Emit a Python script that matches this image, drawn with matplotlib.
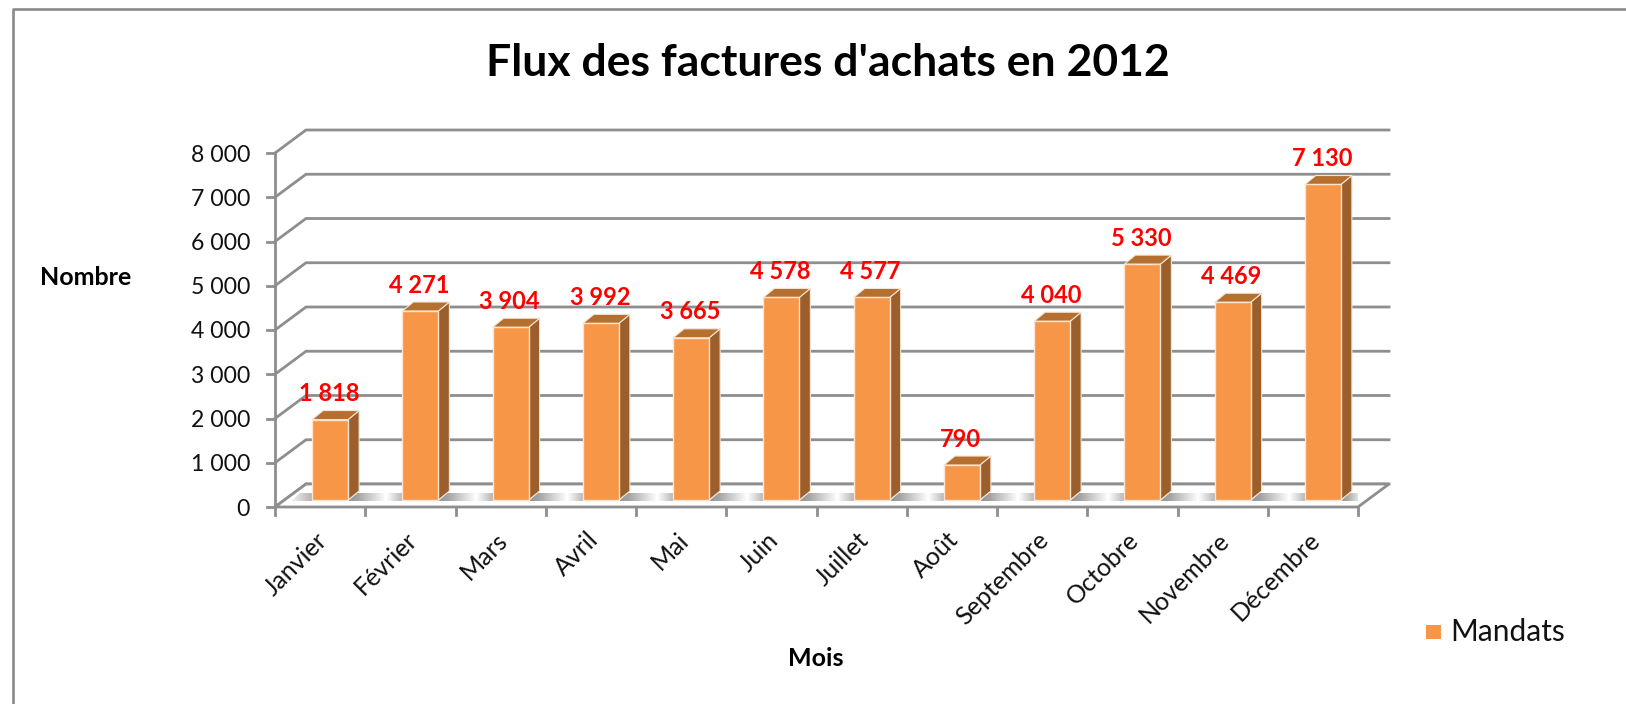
#!/usr/bin/env python3
"""
Flux des factures d'achats - fake 3D column chart
"""

import numpy as np
import matplotlib
matplotlib.use('Agg')
import matplotlib.pyplot as plt
from matplotlib.patches import Polygon, Rectangle

plt.rcParams['font.family'] = ['Lato', 'DejaVu Sans']

months = ['Janvier', 'Février', 'Mars', 'Avril', 'Mai', 'Juin', 'Juillet', 'Août',
          'Septembre', 'Octobre', 'Novembre', 'Décembre']
mandats = [1818, 4271, 3904, 3992, 3665, 4578, 4577, 790, 4040, 5330, 4469, 7130]
value_labels = ['1 818', '4 271', '3 904', '3 992', '3 665', '4 578', '4 577', '790',
                '4 040', '5 330', '4 469', '7 130']
y_ticks = [0, 1000, 2000, 3000, 4000, 5000, 6000, 7000, 8000]
y_tick_labels = ['0', '1 000', '2 000', '3 000', '4 000', '5 000', '6 000', '7 000', '8 000']

W, H = 1626, 704
FRONT = '#F79646'
SIDE = '#9C5F2B'
TOP = '#B5702F'
GRID = '#8E8E8E'

# plot box in pixels (front plane)
left, right, top, bottom = 275, 1358, 153, 507
px_x = (right - left) / 12
px_y = (bottom - top) / 8000


def dx(p):
    return p / px_x


def dy(p):
    return p / px_y


fig = plt.figure(figsize=(W / 100, H / 100), dpi=100)
fig.patch.set_facecolor('white')
ax = fig.add_axes([left / W, 1 - bottom / H, (right - left) / W, (bottom - top) / H])
ax.axis('off')

# outer frame of the chart area
fig.add_artist(plt.Line2D([13 / W, 13 / W, 1], [0, 1 - 9 / H, 1 - 9 / H], color='#8A8A8A', lw=1.9))

# walls: slanted + horizontal grid lines
deep_x, deep_y = dx(31), dy(23)
for v in y_ticks:
    ax.plot([0, deep_x, 12 + deep_x], [v, v + deep_y, v + deep_y], color=GRID, lw=2,
            clip_on=False, solid_joinstyle='miter', zorder=1)
    ax.plot([-dx(8), 0], [v, v], color=GRID, lw=2, clip_on=False, zorder=2)
ax.plot([0, 0], [0, 8000], color=GRID, lw=2, clip_on=False, zorder=2)

# floor
ax.add_patch(Polygon([(0, 0), (deep_x, deep_y), (12 + deep_x, deep_y), (12, 0)], closed=True,
                     facecolor='white', edgecolor=GRID, lw=2, clip_on=False, zorder=2))
for i in range(13):
    ax.plot([i, i], [0, -dy(8)], color=GRID, lw=2, clip_on=False, zorder=2)

bar_w = 36 / px_x
bar_shift = 0.5 + 10 / px_x
base = dy(7)

# grey shading on the floor, between the columns
shade = np.interp(np.linspace(0, 1, 64), [0, 0.15, 0.6, 1], [0.58, 0.64, 1, 0.56]).reshape(1, -1)
first = np.interp(np.linspace(0, 1, 32), [0, 1], [0.95, 0.58]).reshape(1, -1)
for i in range(13):
    x0 = (i - 1) + bar_shift + bar_w / 2 if i else dx(16)
    x1 = i + bar_shift - bar_w / 2 if i < 12 else 11 + bar_shift + bar_w / 2 + dx(26)
    y0, y1 = dy(6), dy(14)
    im = ax.imshow(first if i == 0 else shade, cmap='gray', vmin=0, vmax=1,
                   extent=[x0, x1 + dx(9), y0, y1], aspect='auto', interpolation='bilinear',
                   zorder=2.5)
    clip = Polygon([(x0, y0), (x0 + dx(9), y1), (x1 + dx(9), y1), (x1, y0)],
                   transform=ax.transData)
    im.set_clip_path(clip)
ax.set_xlim(0, 12)
ax.set_ylim(0, 8000)

# columns
bar_x = [i + bar_shift for i in range(12)]
ax.bar(bar_x, mandats, width=bar_w, bottom=base, color=FRONT, edgecolor='#FBE3CF', lw=1,
       clip_on=False, zorder=4)
bd_x, bd_y = dx(11), dy(9)
for x, val in zip(bar_x, mandats):
    x0, x1 = x - bar_w / 2, x + bar_w / 2
    y0, y1 = base, base + val
    ax.add_patch(Polygon([(x1, y0), (x1 + bd_x, y0 + bd_y), (x1 + bd_x, y1 + bd_y), (x1, y1)],
                         facecolor=SIDE, edgecolor='#F3E4D6', lw=0.8, clip_on=False, zorder=3.5))
    ax.add_patch(Polygon([(x0, y1), (x0 + bd_x, y1 + bd_y), (x1 + bd_x, y1 + bd_y), (x1, y1)],
                         facecolor=TOP, edgecolor='#F3E4D6', lw=0.8, clip_on=False, zorder=3.5))

# data labels
for x, val, lab in zip(bar_x, mandats, value_labels):
    ax.annotate(lab, (x, base + val), xytext=(-1 * 0.72, 26 * 0.72), textcoords='offset points',
                ha='center', va='center', color='#FF0000', fontsize=17, fontweight='bold',
                annotation_clip=False, zorder=6)

# tick labels
for v, lab in zip(y_ticks, y_tick_labels):
    ax.annotate(lab, (0, v), xytext=(-25 * 0.72, -2 * 0.72), textcoords='offset points', ha='right',
                va='center', fontsize=16.6, color='#111111', annotation_clip=False)
for i, m in enumerate(months):
    ax.annotate(m, (i + 0.5, 0), xytext=(-5 * 0.72, -21 * 0.72), textcoords='offset points',
                ha='right', va='top', rotation=45, rotation_mode='anchor', fontsize=18,
                color='#111111', annotation_clip=False)

# titles and legend
fig.text(828 / W, 1 - 63 / H, "Flux des factures d'achats en 2012", ha='center', va='center',
         fontsize=32, fontweight='bold', color='black')
fig.text(86 / W, 1 - 277 / H, 'Nombre', ha='center', va='center', fontsize=18,
         fontweight='bold', color='black')
fig.text(816 / W, 1 - 659 / H, 'Mois', ha='center', va='center', fontsize=18,
         fontweight='bold', color='black')
fig.add_artist(Rectangle((1426 / W, 1 - 639 / H), 15 / W, 14 / H, transform=fig.transFigure,
                         facecolor=FRONT, edgecolor='none'))
fig.text(1450 / W, 1 - 632 / H, 'Mandats', ha='left', va='center', fontsize=21.5, color='#111111')

plt.savefig('out.png', dpi=100)
